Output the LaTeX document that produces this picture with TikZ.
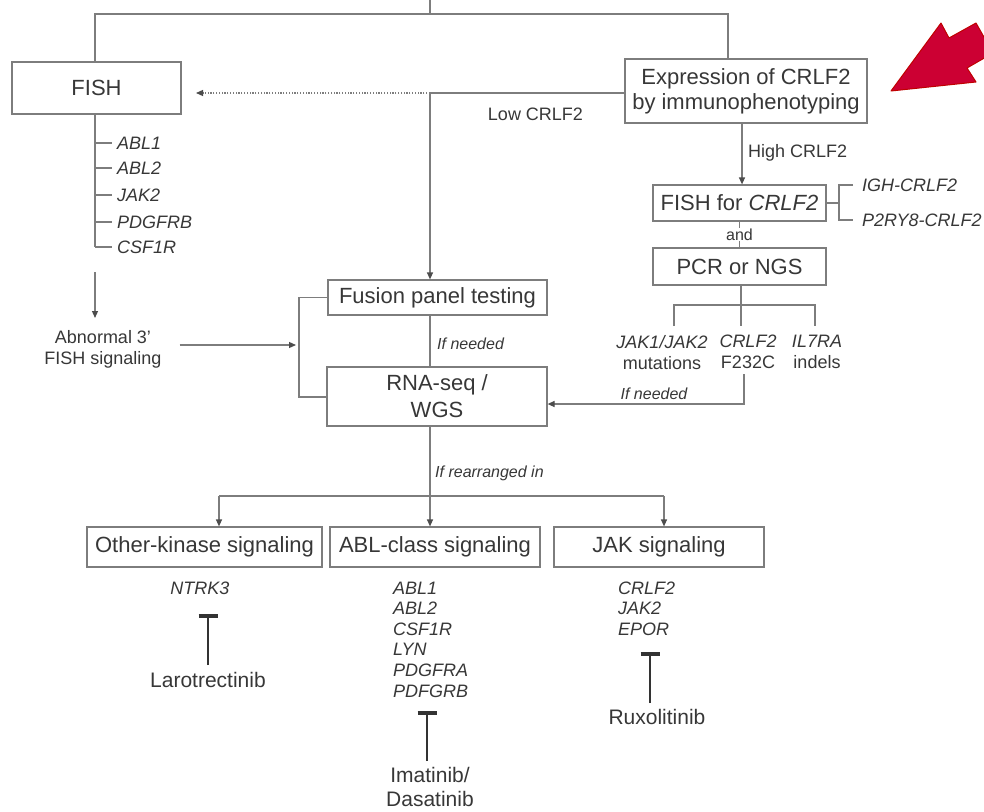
\documentclass[tikz,border=0pt]{standalone}
\usepackage{fontspec}
\setmainfont{Liberation Sans}
\usetikzlibrary{arrows.meta,positioning}
\definecolor{linegray}{RGB}{125,125,125}
\definecolor{textgray}{RGB}{55,55,55}
\definecolor{arrowred}{RGB}{204,0,51}
\definecolor{edgered}{RGB}{192,0,0}

\begin{document}
\begin{tikzpicture}[x=1pt,y=-1pt,
      box/.style={draw=linegray, line width=1.2pt, text=textgray, align=center, inner sep=0pt, font={\fontsize{22}{25}\selectfont}},
      link/.style={draw=linegray, line width=1.2pt},
      arr/.style={link, -{Triangle[length=7pt,width=6pt,color=black!70]}},
      tag/.style={text=textgray, inner sep=1pt, align=center, font={\fontsize{18}{21}\selectfont}},
      gene/.style={text=textgray, inner sep=1pt, align=left, font={\fontsize{18}{20.6}\selectfont\itshape}},
      note/.style={text=textgray, inner sep=1pt, font={\fontsize{16}{19}\selectfont\itshape}},
      drug/.style={text=textgray, inner sep=1pt, align=center, font={\fontsize{21}{24}\selectfont}},
      inhib/.style={draw=black!80, line width=2.3pt, -{Bar[width=19pt,line width=3.8pt]}}]

    \useasboundingbox (0,0) rectangle (984,811);

    %draw boxes
    \node[box, minimum width=169pt, minimum height=52pt] (fish) at (96.5,88) {FISH};
    \node[box, minimum width=242pt, minimum height=64pt] (expr) at (746,91) {Expression of CRLF2\\by immunophenotyping};
    \node[box, minimum width=173pt, minimum height=36pt] (fishcrlf) at (739.5,203) {FISH for \textit{CRLF2}};
    \node[box, minimum width=173pt, minimum height=37pt] (pcr) at (739.5,266.5) {PCR or NGS};
    \node[box, minimum width=219pt, minimum height=35pt] (fusion) at (437.5,297.5) {Fusion panel testing};
    \node[box, minimum width=220pt, minimum height=59pt] (rna) at (437,396.5) {RNA-seq /\\[2pt]WGS};
    \node[box, minimum width=235pt, minimum height=40pt] (other) at (204.5,547) {Other-kinase signaling};
    \node[box, minimum width=210pt, minimum height=40pt] (abl) at (435,547) {ABL-class signaling};
    \node[box, minimum width=210pt, minimum height=40pt] (jak) at (659,547) {JAK signaling};

    %draw top split
    \coordinate (topc) at (430,0);
    \coordinate (tl) at (95,14);
    \coordinate (tr) at (728,14);
    \draw[link] (topc) -- (topc |- tl);
    \draw[link] (fish.north -| tl) -- (tl) -- (tr) -- (expr.north -| tr);

    %draw low CRLF2 branch
    \coordinate (lowc) at (430,93);
    \coordinate (fishtip) at (196,93);
    \draw[link] (expr.west |- lowc) -- (lowc);
    \draw[arr] (lowc) -- (fusion.north -| lowc);
    \draw[arr, dash pattern=on 1.2pt off 1.6pt] (lowc) -- (fishtip);
    \node[tag] (low) at (535.5,114) {Low CRLF2};

    %draw high CRLF2 branch
    \coordinate (highc) at (742,0);
    \draw[arr] (expr.south -| highc) -- (fishcrlf.north -| highc);
    \node[tag, anchor=west] (high) at (747,153) {High CRLF2};

    %draw CRLF2 fusions
    \coordinate (brk) at (839,203);
    \node[gene, anchor=west] (igh) at (861,185) {IGH-CRLF2};
    \node[gene, anchor=west] (p2ry8) at (861,220) {P2RY8-CRLF2};
    \draw[link] (fishcrlf.east |- brk) -- (brk);
    \draw[link] ([xshift=-8pt]igh.west) -| (brk |- p2ry8.west) -- ([xshift=-8pt]p2ry8.west);
    \draw[link] (fishcrlf.south) -- node[tag, fill=white, font={\fontsize{16}{19}\selectfont}] (andtag) {and} (pcr.north);

    %draw mutations
    \coordinate (pcrsplit) at (741,305);
    \coordinate (ma) at (674,326);
    \coordinate (mb) at (741,326);
    \coordinate (mc) at (815,326);
    \draw[link] (pcr.south -| pcrsplit) -- (pcrsplit) -- (mb);
    \draw[link] (ma) -- (ma |- pcrsplit) -- (mc |- pcrsplit) -- (mc);
    \node[tag, anchor=north] (mut1) at (662,334) {\textit{JAK1/JAK2}\\mutations};
    \node[tag, anchor=north] (mut2) at (748,334) {\textit{CRLF2}\\F232C};
    \node[tag, anchor=north] (mut3) at (817,334) {\textit{IL7RA}\\indels};
    \coordinate (needc) at (744,404);
    \draw[arr, shorten <=4pt] (mut2.south -| needc) -- (needc) -- (rna.east |- needc);
    \node[note] (needright) at (654,394) {If needed};

    %draw fusion panel to RNA-seq
    \draw[link] (fusion.south -| lowc) -- (rna.north -| lowc);
    \node[note, anchor=west] (needmid) at (436,344) {If needed};
    \coordinate (lb) at (299,397);
    \draw[link] (fusion.west) -| (lb) -- (rna.west |- lb);

    %draw FISH genes
    \coordinate (fx) at (95,247);
    \draw[link] (fish.south -| fx) -- (fx);
    \foreach \g/\y [count=\i] in {ABL1/143, ABL2/168, JAK2/195, PDGFRB/222, CSF1R/247}{
      \node[gene, anchor=west] (fg\i) at (116,\y) {\g};
      \draw[link, shorten >=4pt] (fx |- fg\i.west) -- (fg\i.west);
    }

    %draw abnormal FISH
    \coordinate (fisharr) at (95,272);
    \node[tag, anchor=north] (abnormal) at (103,329) {Abnormal 3'\\FISH signaling};
    \draw[arr, shorten >=11pt] (fisharr) -- (abnormal.north -| fisharr);
    \draw[arr, shorten <=17pt, shorten >=3pt] (abnormal.east |- 0,345) -- (lb |- 0,345);

    %draw signaling split
    \coordinate (rsplit) at (430,496);
    \coordinate (sl) at (219,496);
    \coordinate (sr) at (664,496);
    \draw[link] (rna.south -| rsplit) -- (rsplit);
    \node[note, anchor=west] (rearr) at (434,473) {If rearranged in};
    \draw[link] (sl) -- (sr);
    \draw[arr] (sl) -- (other.north -| sl);
    \draw[arr] (rsplit) -- (abl.north -| rsplit);
    \draw[arr] (sr) -- (jak.north -| sr);

    %draw genes and drugs
    \node[gene] (ntrk3) at (200,588) {NTRK3};
    \node[gene, anchor=north west] (abllist) at (392,580.6) {ABL1\\ABL2\\CSF1R\\LYN\\PDGFRA\\PDFGRB};
    \node[gene, anchor=north west] (jaklist) at (617,580.6) {CRLF2\\JAK2\\EPOR};
    \node[drug, anchor=north] (laro) at (208,671) {Larotrectinib};
    \node[drug, anchor=north] (imat) at (430,766) {Imatinib/\\Dasatinib};
    \node[drug, anchor=north] (ruxo) at (657,708) {Ruxolitinib};
    \coordinate (barA) at (208,614);
    \coordinate (barB) at (427,711);
    \coordinate (barC) at (650,652);
    \draw[inhib, shorten <=6pt] (laro.north) -- (barA);
    \draw[inhib, shorten <=5pt] (imat.north -| barB) -- (barB);
    \draw[inhib, shorten <=5pt] (ruxo.north -| barC) -- (barC);

    %draw red pointer
    \begin{scope}
      \clip (0,0) rectangle (984,811);
      \filldraw[fill=arrowred, draw=edgered, line width=1pt, line join=round]
        (891,91) -- (941,23) -- (949,38) -- (976,23) -- (993,53) -- (967,68) -- (976,82) -- cycle;
    \end{scope}

\end{tikzpicture}
\end{document}
